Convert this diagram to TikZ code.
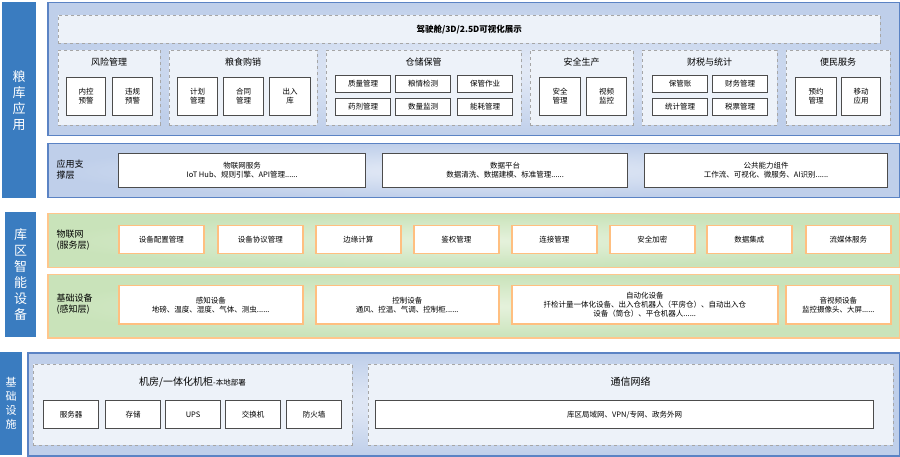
\documentclass[tikz,border=0pt]{standalone}
\usepackage{fontspec}
\setmainfont{Noto Sans CJK SC}
\usetikzlibrary{positioning}
\definecolor{sideblue}{HTML}{3A7CC0}
\definecolor{panelline}{HTML}{5B83C4}
\definecolor{panelin}{HTML}{E6ECF7}
\definecolor{panelout}{HTML}{BFCFEA}
\definecolor{greenin}{HTML}{E6F2DD}
\definecolor{greenout}{HTML}{C9E3BA}

\begin{document}
\begin{tikzpicture}[x=1pt,y=-1pt,font=\fontsize{7.5}{9}\selectfont]
                \tikzset{box/.style = {rectangle,anchor=north west,inner sep=0pt,align=center}}
                \tikzset{side/.style = {box,fill=sideblue,text=white,font=\fontsize{13}{16}\selectfont}}
                \tikzset{bluepanel/.style = {box,draw=panelline,line width=1.5pt,inner color=panelin,outer color=panelout}}
                \tikzset{greenpanel/.style = {box,draw=orange!45,line width=1.5pt,inner color=greenin,outer color=greenout}}
                \tikzset{group/.style = {box,draw=gray!70,dashed,fill=panelin!70!white}}
                \tikzset{item/.style = {box,draw=black!70,line width=1.2pt,fill=white}}
                \tikzset{oitem/.style = {box,draw=orange!50,line width=1.5pt,fill=white}}
                \useasboundingbox (0,0) rectangle (900,457);
                % side labels
                \node[side,minimum width=34pt,minimum height=196pt] (app) at (2,2) {粮\\库\\应\\用};
                \node[side,minimum width=31pt,minimum height=125pt] (dev) at (5,212) {库\\区\\智\\能\\设\\备};
                \node[side,minimum width=22pt,minimum height=103pt,font=\fontsize{11}{14}\selectfont] (infra) at (0,352) {基\\础\\设\\施};

                % application layer
                \node[bluepanel,minimum width=852pt,minimum height=133pt] (top) at (47,2) {};
                \node[group,minimum width=822pt,minimum height=28pt,font=\bfseries\fontsize{8.5}{10}\selectfont] (cockpit) at (58,15) {驾驶舱/3D/2.5D可视化展示};
                \foreach \x/\w/\t in {58/102/风险管理,169/148/粮食购销,326/195/仓储保管,530/103/安全生产,642/135/财税与统计,786/104/便民服务}
                    \node[group,minimum width=\w pt,minimum height=75pt] (g-\t) at (\x,50) {};
                \foreach \x/\t in {109/风险管理,243/粮食购销,423.5/仓储保管,581.5/安全生产,709.5/财税与统计,838/便民服务}
                    \node[font=\fontsize{9}{10}\selectfont] (t-\t) at (\x,62) {\t};
                \foreach \x/\w/\t in {66/39/内控\\预警,112/40/违规\\预警,177/40/计划\\管理,223/40/合同\\管理,269/41/出入\\库,539/41/安全\\管理,586/40/视频\\监控,795/41/预约\\管理,841/39/移动\\应用}
                    \node[item,minimum width=\w pt,minimum height=38pt] at (\x,77) {\t};
                \foreach \x/\y/\t in {335/75/质量管理,395/75/粮情检测,457/75/保管作业,335/98/药剂管理,395/98/数量监测,457/98/能耗管理,652/75/保管账,712/75/财务管理,652/98/统计管理,712/98/税票管理}
                    \node[item,minimum width=55pt,minimum height=17pt] at (\x,\y) {\t};

                % support layer
                \node[bluepanel,minimum width=852pt,minimum height=54pt] (sup) at (47,143) {};
                \node[anchor=west,align=left,font=\fontsize{9}{11}\selectfont] (suplab) at (53,170) {应用支\\撑层};
                \node[item,minimum width=247pt,minimum height=34pt] (iot) at (118,153) {物联网服务\\IoT Hub、规则引擎、API管理......};
                \node[item,minimum width=245pt,minimum height=34pt] (data) at (382,153) {数据平台\\数据清洗、数据建模、标准管理......};
                \node[item,minimum width=243pt,minimum height=34pt] (comp) at (644,153) {公共能力组件\\工作流、可视化、微服务、AI识别......};

                % device layers
                \node[greenpanel,minimum width=852pt,minimum height=54pt] (svc) at (47,213) {};
                \node[anchor=west,align=left,font=\fontsize{9}{11}\selectfont] (svclab) at (53,240) {物联网\\(服务层)};
                \foreach \x/\t in {118/设备配置管理,217/设备协议管理,315/边缘计算,413/鉴权管理,511/连接管理,609/安全加密,706/数据集成,805/流媒体服务}
                    \node[oitem,minimum width=85pt,minimum height=28pt] at (\x,225) {\t};
                \node[greenpanel,minimum width=852pt,minimum height=63pt] (base) at (47,274) {};
                \node[anchor=west,align=left,font=\fontsize{9}{11}\selectfont] (baselab) at (53,304) {基础设备\\(感知层)};
                \node[oitem,minimum width=184pt,minimum height=38pt] (sense) at (118,285) {感知设备\\地磅、温度、湿度、气体、测虫......};
                \node[oitem,minimum width=183pt,minimum height=38pt] (ctrl) at (315,285) {控制设备\\通风、控温、气调、控制柜......};
                \node[oitem,minimum width=266pt,minimum height=38pt] (auto) at (511,285) {自动化设备\\扦检计量一体化设备、出入仓机器人（平房仓）、自动出入仓\\设备（筒仓）、平仓机器人......};
                \node[oitem,minimum width=105pt,minimum height=38pt] (av) at (785,285) {音视频设备\\监控摄像头、大屏......};

                % infrastructure
                \node[bluepanel,minimum width=872pt,minimum height=103pt] (base2) at (27,352) {};
                \node[group,minimum width=319pt,minimum height=81pt] (room) at (33,364) {};
                \node[group,minimum width=525pt,minimum height=81pt] (net) at (368,364) {};
                \node[font=\fontsize{10}{12}\selectfont] (roomt) at (192.5,382) {机房/一体化机柜\fontsize{7.5}{9}\selectfont-本地部署};
                \node[font=\fontsize{10}{12}\selectfont] (nett) at (630.5,382) {通信网络};
                \foreach \x/\t in {43/服务器,105/存储,165/UPS,225/交换机,286/防火墙}
                    \node[item,minimum width=55pt,minimum height=28pt] at (\x,400) {\t};
                \node[item,minimum width=498pt,minimum height=28pt] (lan) at (375,400) {库区局域网、VPN/专网、政务外网};
\end{tikzpicture}
\end{document}
